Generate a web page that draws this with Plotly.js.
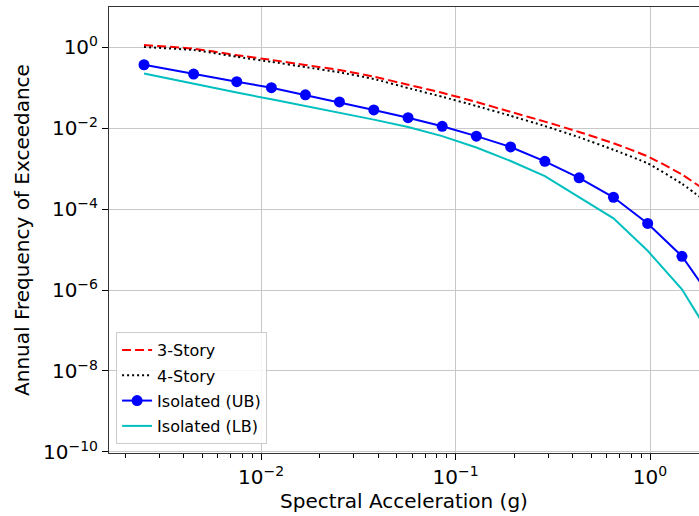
<!DOCTYPE html>
<html>
<head>
<meta charset="utf-8">
<script src="https://cdn.plot.ly/plotly-3.0.1.min.js"></script>
<style>html,body{margin:0;padding:0;background:#fff;overflow:hidden}</style>
</head>
<body>
<div id="chart" style="width:699px;height:516px"></div>
<script>
// Spectral acceleration grid (g)
var sa = [0.0025, 0.0045, 0.0075, 0.0113, 0.0169, 0.0253, 0.038, 0.057, 0.0854, 0.128, 0.192, 0.288, 0.432, 0.649, 0.973, 1.46, 2.19];
// Annual frequency of exceedance
var story3 = [1.12, 0.91, 0.63, 0.48, 0.36, 0.27, 0.186, 0.117, 0.074, 0.044, 0.025, 0.0144, 0.0080, 0.0042, 0.0020, 7.1e-4, 1.9e-4];
var story4 = [1.0, 0.84, 0.575, 0.43, 0.32, 0.237, 0.162, 0.097, 0.059, 0.035, 0.02, 0.0112, 0.0059, 0.0029, 0.00134, 4.2e-4, 9.8e-5];
var isoUB = [0.365, 0.215, 0.139, 0.099, 0.066, 0.044, 0.028, 0.018, 0.011, 0.0063, 0.0034, 0.0015, 5.9e-4, 1.95e-4, 4.4e-5, 6.8e-6, 4.3e-7];
var isoLB = [0.222, 0.122, 0.075, 0.051, 0.035, 0.0236, 0.0161, 0.0106, 0.0063, 0.0033, 0.00153, 6.5e-4, 2.0e-4, 5.9e-5, 9.3e-6, 1.04e-6, 4.4e-8];
var seriesNames = ["3-Story", "4-Story", "Isolated (UB)", "Isolated (LB)"];

// Tick labels
var xTickVals = [0.01, 0.1, 1];
var xTickText = ["10<sup>\u22122</sup>", "10<sup>\u22121</sup>", "10<sup>0</sup>"];
var yTickVals = [1, 1e-2, 1e-4, 1e-6, 1e-8, 1e-10];
var yTickText = ["10<sup>0</sup>", "10<sup>\u22122</sup>", "10<sup>\u22124</sup>", "10<sup>\u22126</sup>", "10<sup>\u22128</sup>", "10<sup>\u221210</sup>"];

var minorX = [];
[0.001, 0.01, 0.1, 1].forEach(function (d) {
  for (var k = 2; k <= 9; k++) minorX.push(d * k);
});

var traces = [
  {x: sa, y: story3, name: seriesNames[0], mode: "lines", legendgroup: "a",
   line: {color: "#ff0000", width: 2, dash: "9px,4px", shape: "spline", smoothing: 0.4}},
  {x: sa, y: story4, name: seriesNames[1], mode: "lines", legendgroup: "b",
   line: {color: "#000000", width: 2, dash: "2px,3px", shape: "spline", smoothing: 0.4}},
  {x: sa, y: isoUB, name: seriesNames[2], mode: "lines+markers", legendgroup: "c",
   line: {color: "#0000ff", width: 2}, marker: {color: "#0000ff", size: 11}},
  {x: sa, y: isoLB, name: seriesNames[3], mode: "lines", legendgroup: "d",
   line: {color: "#00bfbf", width: 2}}
];

var font = "DejaVu Sans, sans-serif";
var layout = {
  width: 699, height: 516,
  margin: {l: 109, r: 0, t: 7, b: 63},
  paper_bgcolor: "#ffffff", plot_bgcolor: "#ffffff",
  font: {family: font, size: 20, color: "#000"},
  showlegend: true,
  legend: {x: 0.012, y: 0.02, xanchor: "left", yanchor: "bottom",
           traceorder: "grouped", tracegroupgap: 1.5,
           bgcolor: "rgba(255,255,255,0.85)", bordercolor: "#cccccc", borderwidth: 1,
           font: {family: font, size: 16, color: "#000"}},
  xaxis: {
    type: "log", range: [-2.782, 0.252],
    tickmode: "array", tickvals: xTickVals, ticktext: xTickText,
    ticks: "outside", ticklen: 6, tickwidth: 1, tickcolor: "#000",
    showgrid: true, gridcolor: "#c8c8c8", gridwidth: 1,
    showline: true, linecolor: "#333", linewidth: 1, mirror: true,
    zeroline: false,
    tickfont: {family: font, size: 20, color: "#000"},
    minor: {tickmode: "array", tickvals: minorX, ticks: "outside", ticklen: 3.5, tickcolor: "#000", showgrid: false},
    title: {text: "Spectral Acceleration (g)", font: {family: font, size: 20, color: "#000"}, standoff: 1}
  },
  yaxis: {
    type: "log", range: [-10.025, 0.988],
    tickmode: "array", tickvals: yTickVals, ticktext: yTickText,
    ticks: "outside", ticklen: 6, tickwidth: 1, tickcolor: "#000",
    showgrid: true, gridcolor: "#c8c8c8", gridwidth: 1,
    showline: true, linecolor: "#333", linewidth: 1, mirror: false,
    zeroline: false,
    tickfont: {family: font, size: 20, color: "#000"},
    title: {text: "Annual Frequency of Exceedance", font: {family: font, size: 20, color: "#000"}, standoff: 8}
  }
};

Plotly.newPlot("chart", traces, layout, {displayModeBar: false, staticPlot: true});
</script>
</body>
</html>
